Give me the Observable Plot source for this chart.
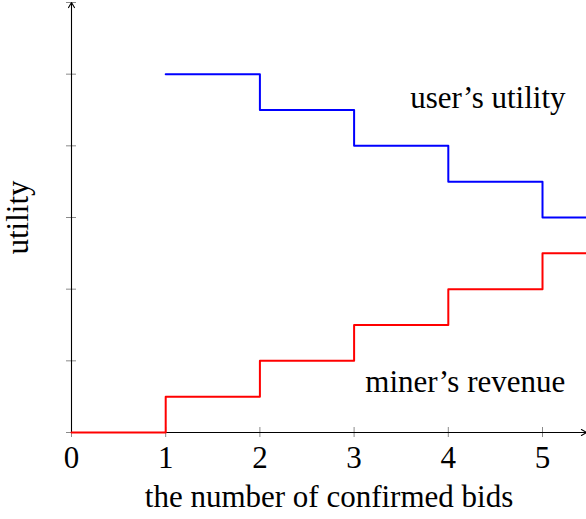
<!DOCTYPE html>
<html>
<head>
<meta charset="utf-8">
<script src="https://cdn.jsdelivr.net/npm/d3@7"></script>
<script src="https://cdn.jsdelivr.net/npm/@observablehq/plot@0.6"></script>
<style>
  html, body { margin: 0; padding: 0; background: #fff; overflow: hidden; }
  svg { display: block; overflow: hidden !important; }
  svg text { font-family: "Liberation Serif", "Times New Roman", serif !important; }
</style>
</head>
<body>
<div id="chart"></div>
<script>
// Data
const bids = [0, 1, 2, 3, 4, 5, 6];
const userUtility = [null, 5, 4.5, 4, 3.5, 3, 3];
const minerRevenue = [0, 0.5, 1, 1.5, 2, 2.5, 2.5];
const xTicks = [0, 1, 2, 3, 4, 5];
const yTicks = [0, 1, 2, 3, 4, 5, 6];
const xLabel = "the number of confirmed bids";
const yLabel = "utility";
const annotations = [
  {text: "user’s utility", x: 4.42, y: 4.67},
  {text: "miner’s revenue", x: 4.18, y: 0.71}
];
const xMax = 5.467, yMax = 6;

const userData = bids.map((b, i) => ({x: b, y: userUtility[i]})).filter(d => d.y != null);
const minerData = bids.map((b, i) => ({x: b, y: minerRevenue[i]}));

const font = '"Liberation Serif", "Times New Roman", serif';
const fs = 31;

const chart = Plot.plot({
  width: 586,
  height: 519,
  marginLeft: 71,
  marginRight: 0,
  marginTop: 2,
  marginBottom: 87,
  x: {domain: [0, xMax], axis: null},
  y: {domain: [0, yMax], axis: null},
  style: {fontFamily: font, background: "#fff", overflow: "hidden"},
  marks: [
    Plot.ruleY(yTicks, {y: d => d, x1: 0, x2: 0, insetLeft: -5, insetRight: -5, stroke: "#8a8a8a", strokeWidth: 1}),
    Plot.ruleX(xTicks, {x: d => d, y1: 0, y2: 0, insetTop: -5, insetBottom: -5, stroke: "#8a8a8a", strokeWidth: 1}),
    Plot.arrow([0], {x1: 0, y1: 0, x2: 0, y2: yMax, stroke: "black", strokeWidth: 1.1, headLength: 8}),
    Plot.arrow([0], {x1: 0, y1: 0, x2: xMax, y2: 0, stroke: "black", strokeWidth: 1.1, headLength: 8}),
    Plot.line(userData, {x: "x", y: "y", curve: "step-after", stroke: "#0000ff", strokeWidth: 2}),
    Plot.line(minerData, {x: "x", y: "y", curve: "step-after", stroke: "#ff0000", strokeWidth: 2}),
    Plot.text(xTicks, {x: d => d, y: 0, text: d => String(d), dy: 26, fontSize: fs, fontFamily: font, fill: "black"}),
    Plot.text(annotations, {x: "x", y: "y", text: "text", fontSize: fs, fontFamily: font, fill: "black"}),
    Plot.text([xLabel], {frameAnchor: "bottom", lineAnchor: "middle", textAnchor: "middle", text: d => d, dy: 65, fontSize: fs, fontFamily: font, fill: "black"}),
    Plot.text([yLabel], {frameAnchor: "left", lineAnchor: "middle", textAnchor: "middle", text: d => d, rotate: -90, dx: -53, fontSize: fs, fontFamily: font, fill: "black"})
  ]
});
document.getElementById("chart").appendChild(chart);
</script>
</body>
</html>
